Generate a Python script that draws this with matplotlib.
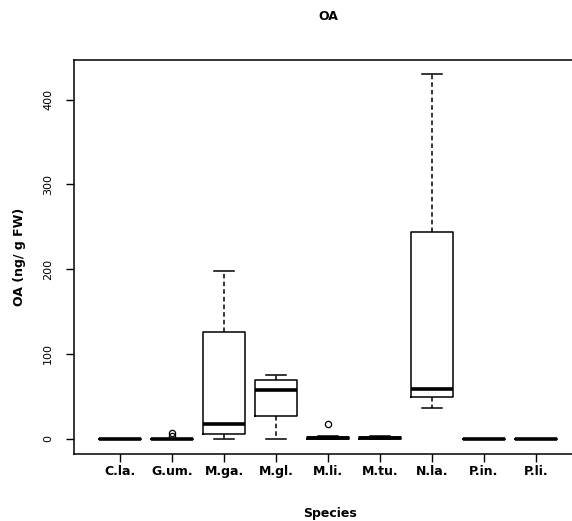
import matplotlib
matplotlib.use("Agg")
from matplotlib import pyplot as plt

# species on the x axis
species = ["C.la.", "G.um.", "M.ga.", "M.gl.", "M.li.", "M.tu.", "N.la.", "P.in.", "P.li."]

# five-number summaries (ng / g FW)
whis_lo = [0, 0, 0, 0, 0, 0, 35.6, 0, 0]
q1 = [0, 0, 5.3, 26, 0, 0, 48.6, 0, 0]
med = [0, 0, 17.5, 57, 0.5, 0.5, 59, 0, 0]
q3 = [0, 0, 125.7, 69.5, 2, 2, 244, 0, 0]
whis_hi = [0, 0, 197.8, 75.3, 3, 2.5, 430, 0, 0]
outliers = [[], [3, 7], [], [], [16.7], [], [], [], []]

stats = []
for i, name in enumerate(species):
    stats.append({"label": name, "whislo": whis_lo[i], "q1": q1[i], "med": med[i],
                  "q3": q3[i], "whishi": whis_hi[i], "fliers": outliers[i]})

W, H = 572, 521
fig = plt.figure(figsize=(W / 100, H / 100), dpi=100)
# frame runs off the right edge of the picture, like the reference
ax = fig.add_axes([74 / W, (H - 454) / H, 508 / W, 394 / H])

ax.bxp(stats, positions=range(1, 10), widths=0.8, patch_artist=False,
       boxprops=dict(color="black", linewidth=1.1),
       whiskerprops=dict(color="black", linewidth=1.1, linestyle=(0, (3, 2))),
       capprops=dict(color="black", linewidth=1.1),
       medianprops=dict(color="black", linewidth=2.6),
       flierprops=dict(marker="o", markerfacecolor="none", markeredgecolor="black",
                       markersize=4.5, markeredgewidth=0.9),
       capwidths=0.4)

ax.set_xlim(0.115, 9.885)
ax.set_ylim(-18.3, 446.9)
ax.set_yticks([0, 100, 200, 300, 400])
ax.set_xticks(range(1, 10))
ax.set_xticklabels(species, fontsize=9, fontweight="bold")
for lab in ax.get_yticklabels():
    lab.set_rotation(90)
    lab.set_va("center")
    lab.set_fontsize(8)
ax.tick_params(axis="y", length=6, width=1, pad=9)
ax.tick_params(axis="x", length=6, width=1, pad=2)
for s in ax.spines.values():
    s.set_linewidth(1.1)

ax.set_title("OA", fontsize=9, fontweight="bold", pad=29)
ax.set_xlabel("Species", fontsize=9, fontweight="bold", va="center")
ax.set_ylabel("OA (ng/ g FW)", fontsize=9, fontweight="bold", va="center")
ax.xaxis.set_label_coords((330 - 74) / 508, -(513 - 454) / 394)
ax.yaxis.set_label_coords(-(74 - 20) / 508, 0.5)

fig.savefig("out.png", dpi=100)
